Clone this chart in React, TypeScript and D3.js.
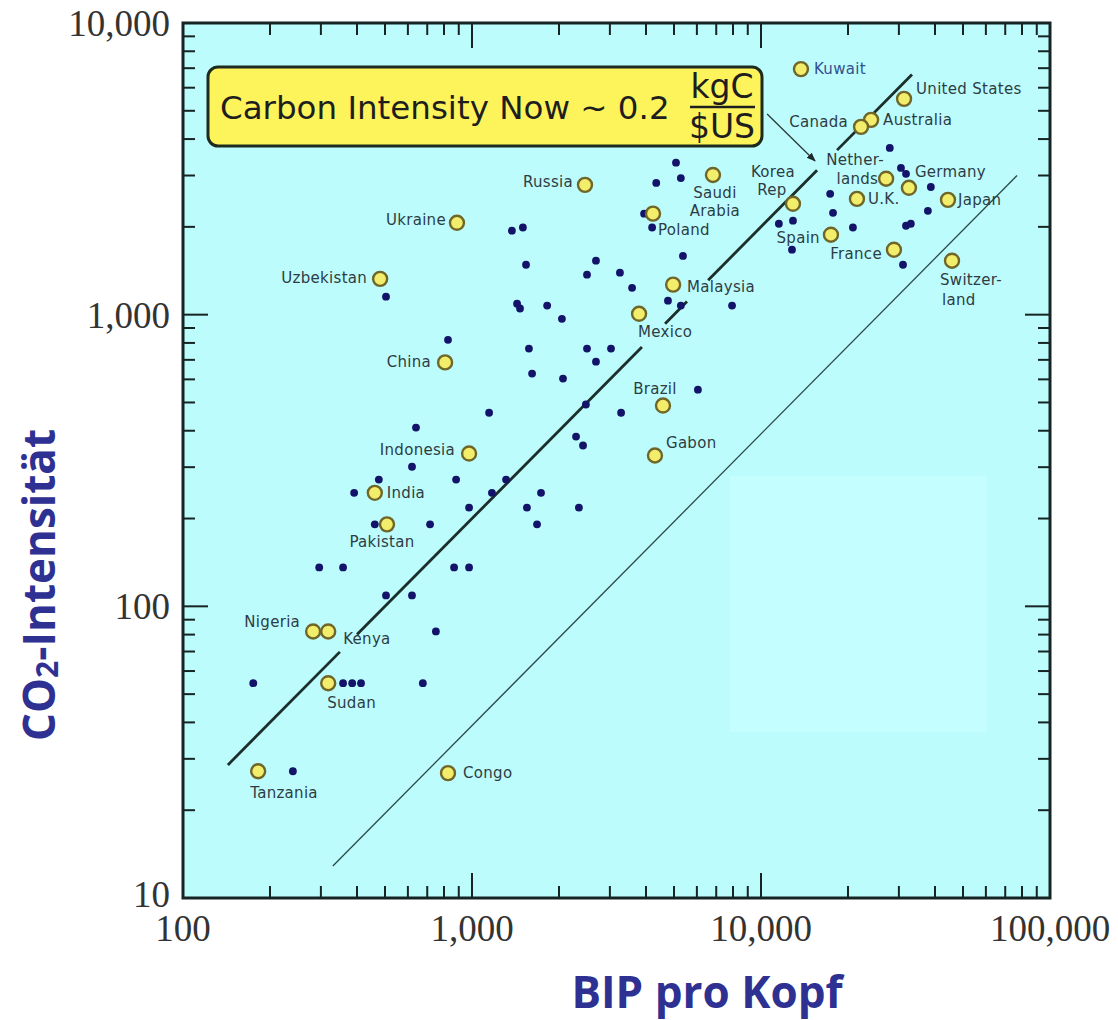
import React from 'react';
import * as d3 from 'd3';

// ---------- data ----------
const X_DOMAIN: [number, number] = [100, 100000];
const Y_DOMAIN: [number, number] = [10, 10000];
const X_TICK_VALUES = [100, 1000, 10000, 100000];
const X_TICK_LABELS = ['100', '1,000', '10,000', '100,000'];
const Y_TICK_VALUES = [10, 100, 1000, 10000];
const Y_TICK_LABELS = ['10', '100', '1,000', '10,000'];

const LABELED_NAMES = ['Kuwait', 'United States', 'Australia', 'Canada', 'Netherlands', 'Germany', 'Korea Rep', 'U.K.', 'Japan', 'Spain', 'France', 'Switzerland', 'Saudi Arabia', 'Russia', 'Poland', 'Ukraine', 'Uzbekistan', 'Malaysia', 'Mexico', 'China', 'Brazil', 'Gabon', 'Indonesia', 'India', 'Pakistan', 'Nigeria', 'Kenya', 'Sudan', 'Tanzania', 'Congo'];
const LABELED_GDP = [13750, 31260, 24040, 22190, 27100, 32500, 12900, 21480, 44360, 17460, 28840, 45810, 6820, 2460, 4230, 887, 481, 4965, 3785, 807, 4580, 4296, 977, 461, 508, 282, 318, 318, 182, 826];
const LABELED_CO2 = [6950, 5495, 4656, 4405, 2925, 2723, 2399, 2494, 2475, 1880, 1670, 1531, 3013, 2787, 2220, 2065, 1327, 1268, 1007, 686, 488, 329, 334, 245, 191, 82, 82, 54.5, 27.2, 26.8];

const OTHER_GDP = [5080, 5280, 4340, 3940, 4200, 5370, 1374, 1500, 1538, 2685, 2500, 3250, 3580, 504, 1432, 1466, 1820, 2047, 4765, 5280, 7940, 826, 1574, 2500, 3027, 2685, 1614, 2065, 6050, 1146, 2478, 3280, 640, 2291, 2422, 620, 476, 881, 1312, 391, 1172, 1733, 977, 1549, 2344, 461, 716, 1679, 296, 358, 867, 977, 504, 620, 750, 175, 358, 385, 413, 676, 240, 27900, 30500, 31750, 38700, 17350, 17750, 37800, 20800, 11530, 12900, 31750, 33000, 12800, 31000];
const OTHER_CO2 = [3320, 2940, 2830, 2220, 1990, 1590, 1940, 1990, 1483, 1531, 1371, 1393, 1236, 1153, 1091, 1050, 1074, 968, 1117, 1074, 1074, 820, 765, 765, 765, 690, 628, 604, 553, 461, 492, 461, 410, 382, 356, 301, 272, 272, 272, 245, 245, 245, 218, 218, 218, 191, 191, 191, 136, 136, 136, 136, 109, 109, 82, 54.5, 54.5, 54.5, 54.5, 54.5, 27.2, 3730, 3185, 3040, 2740, 2596, 2234, 2270, 1990, 2050, 2100, 2018, 2050, 1670, 1483];

// carbon intensity lines (kgC per $US)
const NOW_INTENSITY = 0.2;
const NOW_LINE_SEGMENTS: [number, number][] = [[143, 349], [400, 3873], [4656, 5545], [6561, 15630], [18330, 33300]];
const TARGET_INTENSITY = 0.039;
const TARGET_LINE_RANGE: [number, number] = [330, 76900];
// annotation arrow from the box to the line (data coords)
const ARROW_FROM: [number, number] = [10500, 4875];
const ARROW_TO: [number, number] = [15380, 3365];

const BOX_TEXT = 'Carbon Intensity Now ~ 0.2';
const BOX_NUM = 'kgC';
const BOX_DEN = '$US';
const X_TITLE = 'BIP pro Kopf';

// ---------- layout / style ----------
const W = 1118;
const H = 1020;
const M = { left: 183, right: 1050, top: 23, bottom: 898 };
const BG = '#bdfcfc';
const AXIS = '#172424';
const TITLE_COLOR = '#2e3192';
const LABEL_COLOR = '#2d3c44';

type L = { t: string; a: 'start' | 'middle' | 'end'; dx: number; dy: number; c?: string };
const LABEL_LAYOUT: Record<string, L[]> = {
  'Kuwait': [{ t: 'Kuwait', a: 'start', dx: 13, dy: 5, c: '#34508e' }],
  'United States': [{ t: 'United States', a: 'start', dx: 12, dy: -5 }],
  'Australia': [{ t: 'Australia', a: 'start', dx: 12, dy: 5 }],
  'Canada': [{ t: 'Canada', a: 'end', dx: -13, dy: 0 }],
  'Netherlands': [{ t: 'Nether-', a: 'start', dx: -60, dy: -14 }, { t: 'lands', a: 'end', dx: -8, dy: 5 }],
  'Germany': [{ t: 'Germany', a: 'start', dx: 6, dy: -11 }],
  'Korea Rep': [{ t: 'Korea', a: 'middle', dx: -20, dy: -27 }, { t: 'Rep', a: 'middle', dx: -21, dy: -9 }],
  'U.K.': [{ t: 'U.K.', a: 'start', dx: 11, dy: 5 }],
  'Japan': [{ t: 'Japan', a: 'start', dx: 10, dy: 5 }],
  'Spain': [{ t: 'Spain', a: 'end', dx: -11, dy: 8 }],
  'France': [{ t: 'France', a: 'end', dx: -12, dy: 9 }],
  'Switzerland': [{ t: 'Switzer-', a: 'start', dx: -12, dy: 24 }, { t: 'land', a: 'start', dx: -10, dy: 44 }],
  'Saudi Arabia': [{ t: 'Saudi', a: 'middle', dx: 2, dy: 23 }, { t: 'Arabia', a: 'middle', dx: 2, dy: 41 }],
  'Russia': [{ t: 'Russia', a: 'end', dx: -12, dy: 2 }],
  'Poland': [{ t: 'Poland', a: 'start', dx: 5, dy: 21 }],
  'Ukraine': [{ t: 'Ukraine', a: 'end', dx: -11, dy: 2 }],
  'Uzbekistan': [{ t: 'Uzbekistan', a: 'end', dx: -13, dy: 4 }],
  'Malaysia': [{ t: 'Malaysia', a: 'start', dx: 14, dy: 7 }],
  'Mexico': [{ t: 'Mexico', a: 'start', dx: -1, dy: 23 }],
  'China': [{ t: 'China', a: 'end', dx: -14, dy: 5 }],
  'Brazil': [{ t: 'Brazil', a: 'middle', dx: -8, dy: -12 }],
  'Gabon': [{ t: 'Gabon', a: 'start', dx: 11, dy: -7 }],
  'Indonesia': [{ t: 'Indonesia', a: 'end', dx: -14, dy: 1 }],
  'India': [{ t: 'India', a: 'start', dx: 12, dy: 5 }],
  'Pakistan': [{ t: 'Pakistan', a: 'middle', dx: -5, dy: 23 }],
  'Nigeria': [{ t: 'Nigeria', a: 'end', dx: -13, dy: -4 }],
  'Kenya': [{ t: 'Kenya', a: 'start', dx: 15, dy: 13 }],
  'Sudan': [{ t: 'Sudan', a: 'start', dx: -1, dy: 25 }],
  'Tanzania': [{ t: 'Tanzania', a: 'start', dx: -8, dy: 27 }],
  'Congo': [{ t: 'Congo', a: 'start', dx: 15, dy: 5 }],
};

export default function App() {
  const x = d3.scaleLog().domain(X_DOMAIN).range([M.left, M.right]);
  const y = d3.scaleLog().domain(Y_DOMAIN).range([M.bottom, M.top]);
  const isMajor = (v: number) => Math.abs(Math.log10(v) - Math.round(Math.log10(v))) < 1e-9;
  const xTicks = x.ticks();
  const yTicks = y.ticks();
  const MAJ = 25;
  const MIN = 12;

  const nowLine = d3.line<number>().x((d) => x(d)).y((d) => y(d * NOW_INTENSITY));
  const targetLine = d3.line<number>().x((d) => x(d)).y((d) => y(d * TARGET_INTENSITY));

  const labelFont = { fontFamily: '"DejaVu Sans", sans-serif', fontSize: 15, letterSpacing: 0.3 };

  return (
    <svg width={W} height={H} style={{ position: 'absolute', left: 0, top: 0, background: '#fff' }}>
      <defs>
        <marker id="arr" viewBox="0 0 10 10" refX="9" refY="5" markerWidth="7" markerHeight="7" orient="auto">
          <path d="M0,1 L10,5 L0,9 z" fill="#1c2a2a" />
        </marker>
      </defs>
      <rect x={0} y={0} width={W} height={H} fill="#fff" />
      {/* plot background */}
      <rect x={M.left} y={M.top} width={M.right - M.left} height={M.bottom - M.top} fill={BG} />
      <rect x={730} y={476} width={257} height={256} fill="#c4fefe" />

      {/* intensity lines */}
      {NOW_LINE_SEGMENTS.map((s, i) => (
        <path key={'n' + i} d={nowLine(s) || ''} stroke="#1b2e2a" strokeWidth={2.8} fill="none" />
      ))}
      <path d={targetLine(TARGET_LINE_RANGE) || ''} stroke="#2a4a48" strokeWidth={1.3} fill="none" />
      <line x1={x(ARROW_FROM[0])} y1={y(ARROW_FROM[1])} x2={x(ARROW_TO[0])} y2={y(ARROW_TO[1])}
        stroke="#2a3a3a" strokeWidth={1.3} markerEnd="url(#arr)" />

      {/* unlabeled countries */}
      {OTHER_GDP.map((g, i) => (
        <circle key={'o' + i} cx={x(g)} cy={y(OTHER_CO2[i])} r={3.9} fill="#13136a" />
      ))}

      {/* labeled countries */}
      {LABELED_NAMES.map((n, i) => {
        const cx = x(LABELED_GDP[i]);
        const cy = y(LABELED_CO2[i]);
        return (
          <g key={n}>
            <circle cx={cx} cy={cy} r={7} fill="#f3ed6c" stroke="#6f6628" strokeWidth={2.4} />
            {(LABEL_LAYOUT[n] || []).map((l, j) => (
              <text key={j} x={cx + l.dx} y={cy + l.dy} textAnchor={l.a} fill={l.c || LABEL_COLOR} style={labelFont}>
                {l.t}
              </text>
            ))}
          </g>
        );
      })}

      {/* ticks */}
      {xTicks.map((v, i) => {
        const len = isMajor(v) ? MAJ : MIN;
        const px = x(v);
        return (
          <g key={'xt' + i} stroke={AXIS} strokeWidth={2}>
            <line x1={px} x2={px} y1={M.bottom} y2={M.bottom - len} />
            <line x1={px} x2={px} y1={M.top} y2={M.top + len} />
          </g>
        );
      })}
      {yTicks.map((v, i) => {
        const len = isMajor(v) ? MAJ : MIN;
        const py = y(v);
        return (
          <g key={'yt' + i} stroke={AXIS} strokeWidth={2}>
            <line x1={M.left} x2={M.left + len} y1={py} y2={py} />
            <line x1={M.right} x2={M.right - len} y1={py} y2={py} />
          </g>
        );
      })}
      {/* frame */}
      <rect x={M.left} y={M.top} width={M.right - M.left} height={M.bottom - M.top} fill="none" stroke={AXIS} strokeWidth={3} />

      {/* tick labels */}
      {X_TICK_VALUES.map((v, i) => (
        <text key={'xl' + i} x={x(v)} y={941} textAnchor="middle" fill="#333"
          style={{ fontFamily: '"Liberation Serif", serif', fontSize: 37 }}>{X_TICK_LABELS[i]}</text>
      ))}
      {Y_TICK_VALUES.map((v, i) => (
        <text key={'yl' + i} x={170} y={y(v) + (i === 0 ? 9 : 13)} textAnchor="end" fill="#333"
          style={{ fontFamily: '"Liberation Serif", serif', fontSize: 37 }}>{Y_TICK_LABELS[i]}</text>
      ))}

      {/* annotation box */}
      <rect x={208} y={67} width={554} height={79} rx={10} ry={10} fill="#fdf45c" stroke="#1d2a1d" strokeWidth={3} />
      <text x={220} y={119} fill="#1e1e1e" style={{ fontFamily: '"DejaVu Sans", sans-serif', fontSize: 32.5 }}>{BOX_TEXT}</text>
      <text x={722} y={98} textAnchor="middle" fill="#1e1e1e" style={{ fontFamily: '"DejaVu Sans", sans-serif', fontSize: 33 }}>{BOX_NUM}</text>
      <line x1={690} x2={755} y1={107} y2={107} stroke="#1e1e1e" strokeWidth={2.5} />
      <text x={722} y={138} textAnchor="middle" fill="#1e1e1e" style={{ fontFamily: '"DejaVu Sans", sans-serif', fontSize: 33 }}>{BOX_DEN}</text>

      {/* axis titles */}
      <text transform="translate(55,585) rotate(-90)" textAnchor="middle" fill={TITLE_COLOR}
        style={{ fontFamily: '"Open Sans", sans-serif', fontWeight: 700, fontSize: 44 }}>
        CO<tspan fontSize={30} dy={3}>2</tspan><tspan dy={-3}>-Intensität</tspan>
      </text>
      <text x={707} y={1008} textAnchor="middle" fill={TITLE_COLOR}
        style={{ fontFamily: '"Open Sans", sans-serif', fontWeight: 700, fontSize: 44 }}>{X_TITLE}</text>
    </svg>
  );
}
